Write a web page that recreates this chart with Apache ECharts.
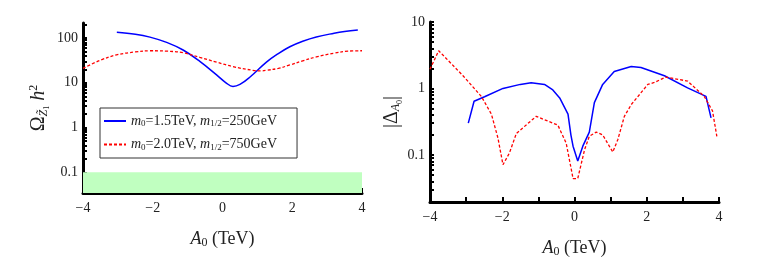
<!DOCTYPE html>
<html><head><meta charset="utf-8">
<script src="https://cdn.jsdelivr.net/npm/echarts@6/dist/echarts.min.js"></script>
<style>html,body{margin:0;padding:0;background:#fff}#c{width:763px;height:270px;background:#fff}</style>
</head><body><div id="c"></div>
<script>
// ---- data ----
const leftBlueX = [-3.03,-2.5,-2.08,-1.6,-1.13,-0.65,-0.17,0.1,0.3,0.5,0.79,1.26,1.6,1.93,2.3,2.69,3.2,3.5,3.88];
const leftBlueY = [135,122,105,80,54,30,15,10,8.3,9.2,13.5,29,45,64,85,106,128,140,152];
const leftRedX = [-4,-3.5,-3.04,-2.5,-2.08,-1.6,-1.13,-0.65,-0.17,0.3,0.87,1.1,1.26,1.6,1.93,2.3,2.69,3.2,3.6,4];
const leftRedY = [21,32,42,49,52,51,47,37,29,23,19,18.5,19,21,25,31,38,46,51,52];
const rightBlueX = [-2.94,-2.78,-2.49,-1.98,-1.5,-1.2,-0.83,-0.6,-0.41,-0.18,-0.1,-0.04,0.09,0.23,0.41,0.55,0.78,1.1,1.57,1.84,2.49,3.13,3.64,3.78];
const rightBlueY = [0.30,0.64,0.75,1.0,1.15,1.22,1.15,0.95,0.72,0.41,0.2,0.135,0.081,0.135,0.22,0.61,1.15,1.8,2.14,2.06,1.55,1.02,0.76,0.36];
const rightRedX = [-4,-3.76,-3.08,-2.58,-2.3,-2.12,-1.98,-1.8,-1.61,-1.06,-0.46,-0.23,-0.04,0.09,0.28,0.41,0.6,0.78,1.06,1.2,1.38,1.57,2.03,2.21,2.53,3.13,3.59,3.82,3.94];
const rightRedY = [1.94,3.7,1.54,0.76,0.41,0.18,0.071,0.107,0.21,0.38,0.28,0.15,0.044,0.044,0.12,0.19,0.22,0.2,0.11,0.17,0.38,0.57,1.15,1.23,1.48,1.29,0.76,0.46,0.19];
const seriesNames = ['m0=1.5TeV, m1/2=250GeV', 'm0=2.0TeV, m1/2=750GeV'];
const legendRich = ['{i|m}{s|0}{t|=1.5TeV, }{i|m}{s|1/2}{t|=250GeV}', '{i|m}{s|0}{t|=2.0TeV, }{i|m}{s|1/2}{t|=750GeV}'];
const leftYTicks = [0.04,0.05,0.06,0.07,0.08,0.09,0.1,0.2,0.3,0.4,0.5,0.6,0.7,0.8,0.9,1,2,3,4,5,6,7,8,9,10,20,30,40,50,60,70,80,90,100,200];
const rightYTicks = [0.02,0.03,0.04,0.05,0.06,0.07,0.08,0.09,0.1,0.2,0.3,0.4,0.5,0.6,0.7,0.8,0.9,1,2,3,4,5,6,7,8,9,10];
const xMin = -4, xMax = 4;
const leftYMin = 0.0344, leftYMax = 217;
const rightYMin = 0.0195, rightYMax = 10;
const bandTop = 0.1;

const zip = (xs, ys) => xs.map((x, i) => [x, ys[i]]);
const F = "'Liberation Serif','DejaVu Serif',serif";
const fmtX = v => (Math.abs(v) % 2 === 1 ? '' : (v < 0 ? '\u2212' + (-v) : String(v)));
const fmtY = v => {
  const l = Math.log10(v);
  return Math.abs(l - Math.round(l)) < 1e-6 ? String(+Number(v).toPrecision(3)) : '';
};

function xAxis(gi) {
  return {
    type: 'value', gridIndex: gi, min: xMin, max: xMax, interval: 1,
    axisLine: {show: true, onZero: false, lineStyle: {color: '#000', width: 3}},
    axisTick: {show: true, inside: true, length: 5, lineStyle: {color: '#000', width: 2}},
    splitLine: {show: false},
    axisLabel: {fontFamily: F, fontSize: 14, color: '#222', margin: 8, formatter: fmtX},
    name: '{i|A}{s|0}{t| (TeV)}', nameLocation: 'middle', nameGap: 36,
    nameTextStyle: {fontFamily: F, color: '#222', rich: {
      i: {fontFamily: F, fontSize: 18, fontStyle: 'italic', color: '#222'},
      s: {fontFamily: F, fontSize: 12, color: '#222', padding: [8, 0, 0, 0]},
      t: {fontFamily: F, fontSize: 18, color: '#222'}
    }}
  };
}
function yAxis(gi, min, max, ticks, nm, gap, rich) {
  return {
    type: 'log', logBase: 10, gridIndex: gi, min: min, max: max,
    axisLine: {show: true, onZero: false, lineStyle: {color: '#000', width: 3}},
    axisTick: {show: true, inside: true, length: 4, customValues: ticks, lineStyle: {color: '#000', width: 2}},
    splitLine: {show: false},
    axisLabel: {fontFamily: F, fontSize: 14, color: '#222', margin: 5, formatter: fmtY},
    name: nm, nameLocation: 'middle', nameRotate: 90, nameGap: gap,
    nameTextStyle: {fontFamily: F, color: '#222', rich: rich}
  };
}

const chart = echarts.init(document.getElementById('c'));
chart.setOption({
  animation: false,
  grid: [
    {left: 83, right: 401, top: 23, bottom: 77},
    {left: 430, right: 44, top: 22, bottom: 68}
  ],
  xAxis: [xAxis(0), xAxis(1)],
  yAxis: [
    yAxis(0, leftYMin, leftYMax, leftYTicks, '{o|Ω}{s|Z̃}{ss|1}{h| h}{p|2}', 32, {
      o: {fontFamily: F, fontSize: 20, color: '#222'},
      s: {fontFamily: F, fontSize: 12, fontStyle: 'italic', color: '#222', padding: [9, 0, 0, 0]},
      ss: {fontFamily: F, fontSize: 8, color: '#222', padding: [16, 0, 0, 0]},
      h: {fontFamily: F, fontSize: 20, fontStyle: 'italic', color: '#222'},
      p: {fontFamily: F, fontSize: 12, color: '#222', padding: [0, 0, 10, 0]}
    }),
    yAxis(1, rightYMin, rightYMax, rightYTicks, '{t||Δ}{si|A}{ss|0}{t||}', 26, {
      t: {fontFamily: F, fontSize: 20, color: '#222'},
      si: {fontFamily: F, fontSize: 12, fontStyle: 'italic', color: '#222', padding: [9, 0, 0, 0]},
      ss: {fontFamily: F, fontSize: 8, color: '#222', padding: [16, 0, 0, 0]}
    })
  ],
  legend: {
    left: 100, top: 108, orient: 'vertical', z: 30,
    data: seriesNames,
    itemWidth: 22, itemHeight: 10, itemGap: 9,
    padding: [6, 20, 6, 3],
    borderColor: '#333', borderWidth: 1, backgroundColor: '#fff',
    itemStyle: {color: 'rgba(0,0,0,0)', borderWidth: 0, opacity: 0},
    formatter: n => legendRich[seriesNames.indexOf(n)],
    textStyle: {fontFamily: F, fontSize: 14, color: '#222', rich: {
      i: {fontFamily: F, fontSize: 14, fontStyle: 'italic', color: '#222'},
      s: {fontFamily: F, fontSize: 9, color: '#222', padding: [6, 0, 0, 0]},
      t: {fontFamily: F, fontSize: 14, color: '#222'}
    }}
  },
  series: [
    {
      name: seriesNames[0], type: 'line', xAxisIndex: 0, yAxisIndex: 0,
      data: zip(leftBlueX, leftBlueY), smooth: 0.4, symbol: 'none',
      lineStyle: {color: '#0000ff', width: 1.5}, itemStyle: {color: '#0000ff'},
      markArea: {silent: true, itemStyle: {color: '#c0ffc0'},
        data: [[{xAxis: xMin, yAxis: leftYMin}, {xAxis: xMax, yAxis: bandTop}]]}
    },
    {
      name: seriesNames[1], type: 'line', xAxisIndex: 0, yAxisIndex: 0,
      data: zip(leftRedX, leftRedY), smooth: 0.4, symbol: 'none',
      lineStyle: {color: '#ff0000', width: 1.3, type: [3, 2]}, itemStyle: {color: '#ff0000'}
    },
    {
      name: 'rb', type: 'line', xAxisIndex: 1, yAxisIndex: 1,
      data: zip(rightBlueX, rightBlueY), symbol: 'none',
      lineStyle: {color: '#0000ff', width: 1.5}, itemStyle: {color: '#0000ff'}
    },
    {
      name: 'rr', type: 'line', xAxisIndex: 1, yAxisIndex: 1,
      data: zip(rightRedX, rightRedY), symbol: 'none',
      lineStyle: {color: '#ff0000', width: 1.3, type: [3, 2]}, itemStyle: {color: '#ff0000'}
    }
  ]
});
</script>
</body></html>
